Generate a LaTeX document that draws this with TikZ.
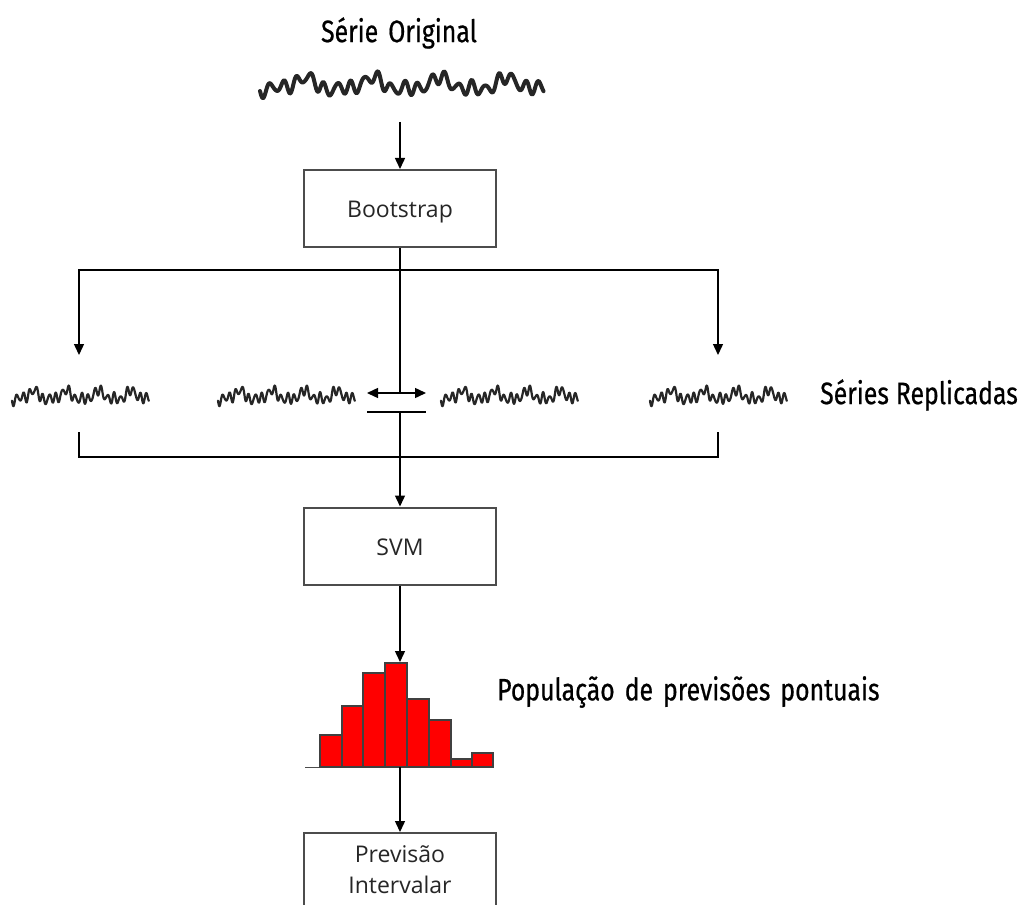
\documentclass[tikz,border=0pt]{standalone}
\usepackage{fontspec}
\setmainfont{Open Sans}
\newfontfamily\condfont[FakeStretch=0.8,FakeBold=0.6]{Fira Sans}
\usetikzlibrary{arrows.meta}
\tikzset{
  conn/.style={line width=1.4pt, draw=black},
  arr/.style={conn, -{Triangle[length=11pt,width=10pt]}},
  darr/.style={conn, {Triangle[length=11pt,width=10pt]}-{Triangle[length=11pt,width=10pt]}},
  procbox/.style={draw=black!70, line width=2pt, fill=white, minimum width=192pt, minimum height=77pt, inner sep=0pt, font=\fontsize{23}{28}\selectfont, text=black!85, align=center, text height=21pt, text depth=3pt},
  title/.style={font=\condfont\fontsize{31}{34}\selectfont, inner sep=0pt},
  barfill/.style={fill=red},
  baredge/.style={draw=black!75, line width=1.3pt},
  pics/wave/.style args={#1/#2/#3}{code={
    \draw[line width=#3, line join=round, line cap=round, black!85]
      plot[domain=0:1, samples=400, smooth]
      ({#1*\x}, {#2*(0.45*sin(\x*7600) + 0.4*sin(\x*1500+40) + 0.22*sin(\x*3100+110) + 0.12*sin(\x*11000))});
  }}
}
\begin{document}
\begin{tikzpicture}[x=1pt, y=-1pt]
\useasboundingbox (0,0) rectangle (1019,904);
\clip (0,0) rectangle (1019,904);

% title and original series
\node[title] (torig) at (399,33) {Série\hspace{10pt}Original};
\pic at (260,85) {wave=284/13/4pt};
\coordinate (origbot) at (400,122);

% bootstrap
\node[procbox] (boot) at (400,208.5) {Bootstrap};
\draw[arr] (origbot) -- (boot.north);

\coordinate (split) at (400,270);
\coordinate (sl) at (79,355);
\coordinate (sr) at (718,355);
\draw[conn] (boot.south) -- (split);
\draw[arr] (split) -| (sl);
\draw[arr] (split) -| (sr);

% replicated series
\pic at (12,396) {wave=137/10/2.2pt};
\pic at (218,396) {wave=137/10/2.2pt};
\pic at (441,396) {wave=137/10/2.2pt};
\pic at (650,396) {wave=137/10/2.2pt};
\node[title, anchor=west] (trep) at (820,395) {Séries\hspace{7pt}Replicadas};

\coordinate (cx) at (400,393);
\coordinate (xl) at (367,393);
\coordinate (xr) at (426,393);
\coordinate (bl) at (367,412);
\coordinate (bm) at (400,412);
\coordinate (brr) at (426,412);
\draw[conn] (split) -- (cx);
\draw[darr] (xl) -- (xr);
\draw[conn] (bl) -- (brr);

% bracket
\coordinate (ql) at (79,432);
\coordinate (qr) at (718,432);
\coordinate (jl) at (79,457);
\coordinate (jr) at (718,457);
\draw[conn] (ql) -- (jl) -- (jr) -- (qr);

% SVM
\node[procbox] (svm) at (400,546) {SVM};
\draw[arr] (bm) -- (svm.north);

% histogram
\coordinate (htop) at (400,662);
\coordinate (hbot) at (400,767);
\draw[arr] (svm.south) -- (htop);
\draw[line width=1pt, black!70] (305,767) -- (320,767);
\foreach \xa/\xb/\yt in {320/342/735, 342/363/706, 363/385/673, 385/407/663, 407/429/699, 429/451/720, 451/472/759, 472/493/753}
  \fill[barfill] (\xa,767) rectangle (\xb,\yt);
\foreach \xa/\xb/\yt in {320/342/735, 342/363/706, 363/385/673, 385/407/663, 407/429/699, 429/451/720, 451/472/759, 472/493/753}
  \draw[baredge] (\xa,767) rectangle (\xb,\yt);
\node[title, anchor=west] (tpop) at (497,692) {População\hspace{10pt}de\hspace{10pt}previsões\hspace{10pt}pontuais};

% interval forecast
\node[procbox, minimum height=100pt, anchor=north] (prev) at (400,832) {};
\node[font=\fontsize{23}{31}\selectfont, text=black!85, align=center, anchor=north, inner sep=0pt] (prevt) at (400,845) {Previsão\\Intervalar};
\draw[arr] (hbot) -- (prev.north);
\end{tikzpicture}
\end{document}
